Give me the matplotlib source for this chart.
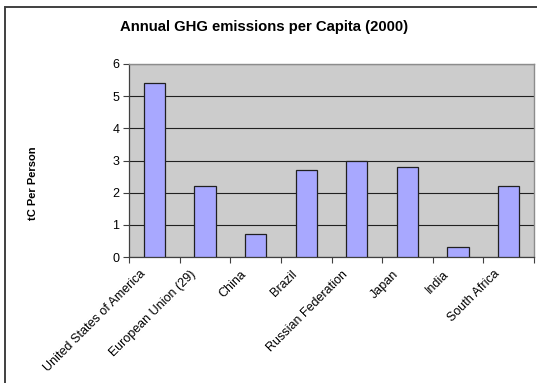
import matplotlib
matplotlib.use("Agg")
import matplotlib.pyplot as plt
from matplotlib.patches import Rectangle
from matplotlib.transforms import ScaledTranslation

countries = ["United States of America", "European Union (29)", "China", "Brazil",
             "Russian Federation", "Japan", "India", "South Africa"]
emissions = [5.4, 2.2, 0.7, 2.7, 3.0, 2.8, 0.3, 2.2]
y_ticks = [0, 1, 2, 3, 4, 5, 6]

plt.rcParams["font.family"] = ["Liberation Sans", "DejaVu Sans"]

W, H = 537, 383
fig = plt.figure(figsize=(W / 100, H / 100), dpi=100)
fig.patch.set_facecolor("white")

# plot area in pixel coordinates
left, right, top, bottom = 129, 534, 64, 257
ax = fig.add_axes([left / W, 1 - bottom / H, (right - left) / W, (bottom - top) / H])
ax.set_facecolor("#CCCCCC")

x = list(range(len(countries)))
ax.bar(x, emissions, width=0.42, color="#A8A8FF", edgecolor="#202020",
       linewidth=0.9, zorder=3)

ax.set_xlim(-0.5, len(countries) - 0.5)
ax.set_ylim(0, 6)
ax.set_yticks(y_ticks)
ax.yaxis.grid(True, color="#202020", linewidth=0.8, zorder=1)
ax.tick_params(axis="y", direction="out", length=4, width=0.8, color="#404040",
               labelsize=9, pad=3)

# category ticks sit between bars
ax.set_xticks([i + 0.5 for i in x[:-1]] + [-0.5, len(countries) - 0.5], minor=True)
ax.set_xticks(x)
ax.set_xticklabels(countries, rotation=45, ha="right", rotation_mode="anchor",
                   fontsize=9)
ax.tick_params(axis="x", which="major", length=0, pad=8)
ax.tick_params(axis="x", which="minor", direction="out", length=4, width=0.8,
               color="#404040")
shift = ScaledTranslation(-15 / 100, 0, fig.dpi_scale_trans)
for lbl in ax.get_xticklabels():
    lbl.set_transform(lbl.get_transform() + shift)

for side in ["top", "right"]:
    ax.spines[side].set_color("#8C8C8C")
    ax.spines[side].set_linewidth(1.0)
for side in ["left", "bottom"]:
    ax.spines[side].set_color("#404040")
    ax.spines[side].set_linewidth(0.9)

ax.set_ylabel("tC Per Person", fontsize=8, fontweight="bold", labelpad=0)
ax.yaxis.set_label_coords((38 - left) / (right - left), (bottom - 183) / (bottom - top))

fig.text(264 / W, 1 - 27 / H, "Annual GHG emissions per Capita (2000)",
         ha="center", va="center", fontsize=10.7, fontweight="bold")

# chart frame running off the right and bottom edges
frame = Rectangle((4.5 / W, -0.05), 1.1, 1 - 6.5 / H + 0.05,
                  transform=fig.transFigure, fill=False, edgecolor="#404040",
                  linewidth=1.4, clip_on=False)
fig.patches.append(frame)

fig.savefig("out.png", dpi=100)
